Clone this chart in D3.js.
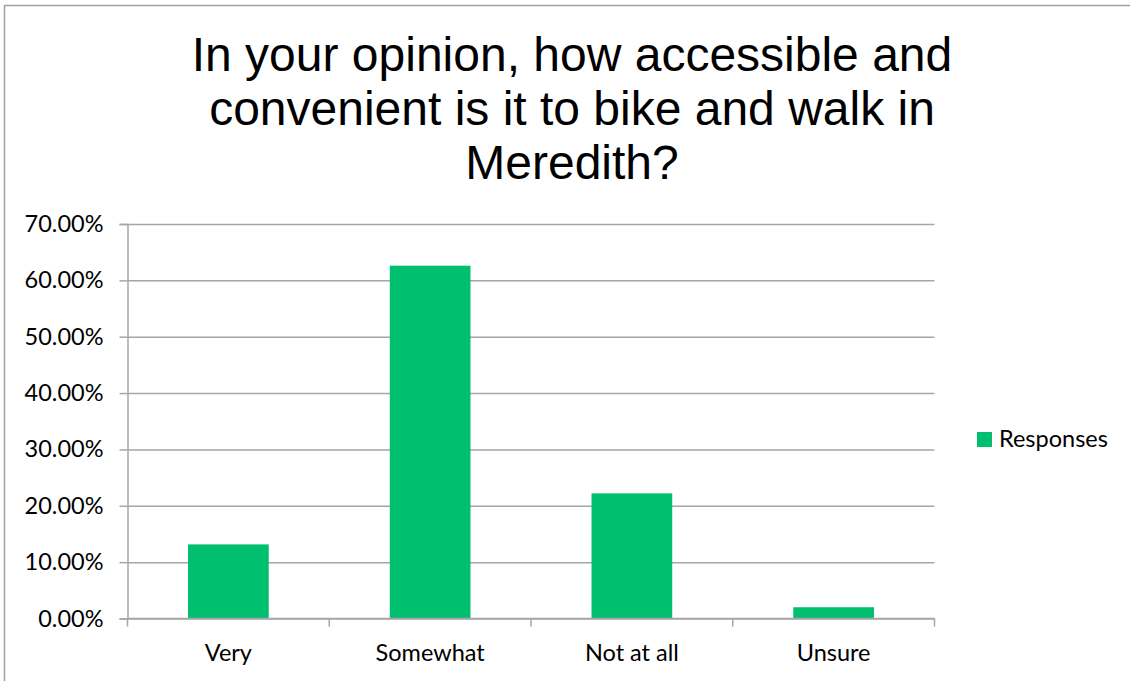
<!DOCTYPE html>
<html>
<head>
<meta charset="utf-8">
<script src="https://cdn.jsdelivr.net/npm/d3@7"></script>
<style>
	body { margin: 0; background: #fff; }
	svg { display: block; }
</style>
</head>
<body>
<div id="chart"></div>
<script>
var categories = ['Very', 'Somewhat', 'Not at all', 'Unsure'];
var responses = [0.1315, 0.626, 0.222, 0.02];
var yTicks = [0, 0.1, 0.2, 0.3, 0.4, 0.5, 0.6, 0.7];
var titleLines = ['In your opinion, how accessible and', 'convenient is it to bike and walk in', 'Meredith?'];
var seriesName = 'Responses';

var width = 1130, height = 681;
var barColor = '#00bf6f', gridColor = '#a6a6a6', labelFont = 'Lato, "Open Sans", sans-serif';
var plot = { left: 127.5, right: 934.5, top: 224, bottom: 618.5 };

var svg = d3.select('#chart').append('svg')
	.attr('width', width)
	.attr('height', height);

// chart frame (cropped at right/bottom)
svg.append('rect')
	.attr('x', 4.5).attr('y', 5.5)
	.attr('width', width + 10).attr('height', height + 10)
	.attr('fill', '#fff')
	.attr('stroke', '#a0a0a0')
	.attr('stroke-width', 1.5);

// title
svg.append('g').selectAll('text')
	.data(titleLines)
	.enter().append('text')
	.attr('x', 572)
	.attr('y', function (d, i) { return 71 + i * 54; })
	.attr('text-anchor', 'middle')
	.attr('font-family', '"Liberation Sans", Arial, sans-serif')
	.attr('font-size', 48)
	.attr('fill', '#000')
	.text(function (d) { return d; });

var x = d3.scaleBand()
	.domain(categories)
	.range([plot.left, plot.right])
	.paddingInner(0.6)
	.paddingOuter(0.3);

var y = d3.scaleLinear()
	.domain([0, 0.7])
	.range([plot.bottom, plot.top]);

// gridlines + y labels
var yAxis = svg.append('g')
	.attr('transform', 'translate(' + plot.left + ',0)')
	.call(d3.axisLeft(y)
		.tickValues(yTicks)
		.tickFormat(function (d) { return (d * 100).toFixed(2) + '%'; })
		.tickSize(8)
		.tickPadding(16));
yAxis.select('.domain').attr('stroke', gridColor).attr('stroke-width', 1.5);
yAxis.selectAll('.tick line').attr('stroke', gridColor).attr('stroke-width', 1.5);
yAxis.selectAll('.tick text')
	.attr('font-family', labelFont)
	.attr('font-size', 23.5)
	.attr('fill', '#000');
yAxis.selectAll('.tick').append('line')
	.attr('x1', 0).attr('x2', plot.right - plot.left)
	.attr('stroke', gridColor).attr('stroke-width', 1.5);

// bars
svg.append('g').selectAll('rect')
	.data(responses)
	.enter().append('rect')
	.attr('x', function (d, i) { return x(categories[i]); })
	.attr('y', function (d) { return y(d); })
	.attr('width', x.bandwidth())
	.attr('height', function (d) { return y(0) - y(d); })
	.attr('fill', barColor);

// x axis with boundary ticks
var step = (plot.right - plot.left) / categories.length;
var xAxisG = svg.append('g');
xAxisG.append('line')
	.attr('x1', plot.left).attr('x2', plot.right)
	.attr('y1', plot.bottom).attr('y2', plot.bottom)
	.attr('stroke', gridColor).attr('stroke-width', 1.5);
xAxisG.selectAll('line.bound')
	.data(d3.range(categories.length + 1))
	.enter().append('line')
	.attr('class', 'bound')
	.attr('x1', function (i) { return plot.left + i * step; })
	.attr('x2', function (i) { return plot.left + i * step; })
	.attr('y1', plot.bottom).attr('y2', plot.bottom + 8)
	.attr('stroke', gridColor).attr('stroke-width', 1.5);
xAxisG.selectAll('text')
	.data(categories)
	.enter().append('text')
	.attr('x', function (d) { return x(d) + x.bandwidth() / 2; })
	.attr('y', 661)
	.attr('text-anchor', 'middle')
	.attr('font-family', labelFont)
	.attr('font-size', 23.5)
	.attr('fill', '#000')
	.text(function (d) { return d; });

// legend
var legend = svg.append('g').attr('transform', 'translate(977,432)');
legend.append('rect')
	.attr('width', 15).attr('height', 15)
	.attr('fill', barColor);
legend.append('text')
	.attr('x', 22).attr('y', 15)
	.attr('font-family', labelFont)
	.attr('font-size', 23.5)
	.attr('fill', '#000')
	.text(seriesName);
</script>
</body>
</html>
